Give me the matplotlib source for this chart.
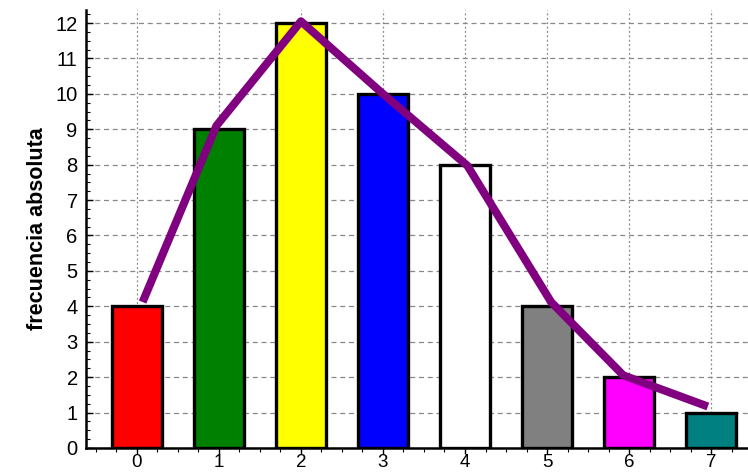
import matplotlib
matplotlib.use("Agg")
import matplotlib.pyplot as plt
from matplotlib.ticker import MultipleLocator
from matplotlib import font_manager

categories = [0, 1, 2, 3, 4, 5, 6, 7]
frequencies = [4, 9, 12, 10, 8, 4, 2, 1]
bar_colors = ["#ff0000", "#008000", "#ffff00", "#0000ff", "#ffffff", "#808080", "#ff00ff", "#008080"]
poly_x = [0.07, 0.97, 2.0, 3.0, 4.03, 5.05, 5.93, 6.96]
poly_y = [4.12, 9.1, 12.05, 10.0, 7.97, 4.12, 2.05, 1.17]
ylabel = "frecuencia absoluta"

names = {f.name for f in font_manager.fontManager.ttflist}
narrow = "Liberation Sans Narrow" in names
label_family = "Liberation Sans Narrow" if narrow else "Liberation Sans"

plt.rcParams['font.family'] = ['Liberation Sans', 'DejaVu Sans']

fig = plt.figure(figsize=(7.48, 4.75), dpi=100)
ax = fig.add_axes([0.115, 0.057, 0.885, 0.922])

ax.bar(categories, frequencies, width=0.61, color=bar_colors, edgecolor="black", linewidth=2.4, zorder=3)
ax.plot(poly_x, poly_y, color="#800080", linewidth=5.8, zorder=4, solid_capstyle="butt")

ax.set_xlim(-0.62, 7.45)
ax.set_ylim(0, 12.37)
ax.set_xticks(categories)
ax.set_yticks(range(0, 13))
ax.xaxis.set_minor_locator(MultipleLocator(0.25))
ax.yaxis.set_minor_locator(MultipleLocator(0.25))

ax.grid(True, axis="y", which="major", color="#888888", linestyle=(0, (4, 3)), linewidth=0.9, zorder=0)
ax.grid(True, axis="x", which="major", color="#888888", linestyle=(0, (1.5, 2)), linewidth=0.9, zorder=0)

for s in ["top", "right"]:
    ax.spines[s].set_visible(False)
for s in ["left", "bottom"]:
    ax.spines[s].set_linewidth(1.8)
    ax.spines[s].set_color("black")

ax.tick_params(axis="x", which="major", direction="out", length=4, width=1, labelsize=13.5, pad=0.5)
ax.tick_params(axis="x", which="minor", direction="out", length=3, width=0.8)
ax.tick_params(axis="y", which="major", direction="in", length=5, width=1, labelsize=14.5, pad=6)
ax.tick_params(axis="y", which="minor", direction="in", length=3, width=0.8)

ax.set_ylabel(ylabel, fontsize=(17 if narrow else 15.5), fontweight="bold",
              family=[label_family, "DejaVu Sans"], labelpad=5)

fig.savefig("out.png", dpi=100)
